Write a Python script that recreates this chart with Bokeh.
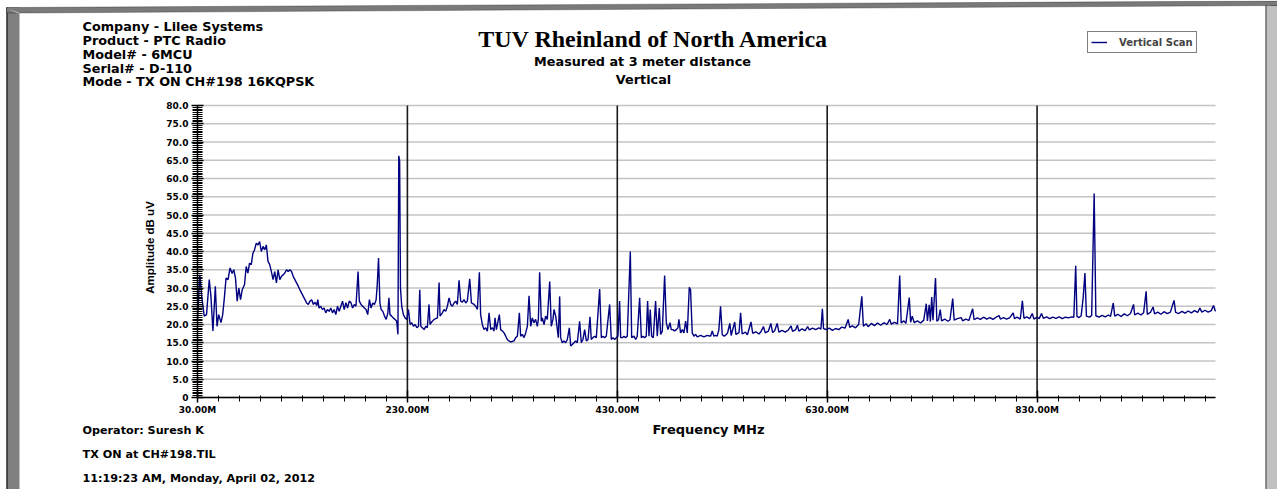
import numpy as np
from bokeh.plotting import figure
from bokeh.models import (FixedTicker, Label, Legend, LegendItem, BoxAnnotation, PolyAnnotation, Range1d)
from bokeh.embed import file_html
from bokeh.resources import INLINE

# ---------------- data ----------------
freq_mhz = [
    30.0, 32.2, 34.2, 36.4, 38.6, 41.2, 42.8, 44.7, 47.0, 48.6,
    50.2, 52.4, 54.0, 55.6, 57.2, 59.1, 61.0, 63.0, 64.6, 66.2,
    67.8, 69.4, 71.0, 72.6, 74.8, 76.4, 78.0, 79.6, 81.2, 82.8,
    84.4, 86.0, 87.6, 89.2, 90.8, 92.4, 94.0, 95.6, 97.2, 98.8,
    100.4, 102.0, 103.6, 105.2, 106.8, 108.4, 110.0, 111.6, 113.2, 114.8,
    116.4, 118.0, 119.6, 121.2, 122.8, 124.4, 126.0, 127.6, 129.2, 130.8,
    132.4, 134.0, 135.6, 137.2, 138.8, 140.4, 142.0, 143.6, 144.6, 145.8,
    147.4, 149.0, 150.6, 152.2, 153.8, 155.4, 157.0, 158.6, 160.2, 161.8,
    163.4, 165.0, 166.6, 168.2, 169.8, 171.4, 173.0, 174.6, 176.2, 177.8,
    179.4, 181.0, 183.0, 184.2, 185.8, 187.4, 189.0, 190.6, 192.2, 193.8,
    195.4, 197.0, 198.6, 200.2, 201.2, 202.5, 203.8, 205.0, 206.6, 208.2,
    209.8, 211.4, 212.4, 213.4, 215.0, 216.6, 218.2, 219.8, 221.0, 221.8,
    222.6, 223.4, 224.6, 226.2, 227.8, 229.4, 231.0, 232.6, 234.2, 235.8,
    237.4, 239.0, 240.6, 241.8, 242.8,
    244.3, 245.9, 247.5, 249.0, 250.6, 251.6, 252.9, 255.4, 258.6, 260.2,
    261.1, 263.3, 264.9, 266.5, 268.1, 269.7, 271.3, 272.9, 274.4, 276.0,
    277.6, 279.2, 280.8, 282.4, 284.0, 285.6, 287.1, 289.4, 291.0, 293.5,
    295.1, 296.7, 298.6, 299.8, 301.4, 303.0, 304.6, 306.2, 307.8, 309.4,
    311.0, 312.5, 313.5, 314.8, 316.7, 317.6, 318.9, 320.5, 322.1, 323.7,
    325.2, 326.8, 328.4, 331.6, 333.2, 334.8, 336.7, 337.9, 339.5, 341.1,
    342.7, 344.3, 345.9, 347.5, 349.0, 350.6, 352.2, 353.8, 354.8, 356.0,
    357.6, 358.6, 360.2, 361.7, 363.3, 365.6, 367.1, 368.7, 369.7, 371.3,
    372.9, 373.8, 375.1, 376.0, 377.6, 379.2, 380.8, 382.4, 384.3, 385.6,
    387.1, 388.7, 390.3, 391.9, 394.1, 395.7, 397.3, 398.9, 400.5, 402.1,
    404.0, 405.2, 406.8, 408.4, 410.0, 413.2, 414.8, 416.3, 417.9, 419.5,
    422.7, 424.3, 425.9, 427.5, 429.0, 430.6, 432.2, 433.2, 434.8, 436.3,
    437.9, 439.5, 442.4, 443.7, 445.9, 447.5, 449.0, 451.3, 452.9, 454.4,
    456.0, 457.6, 458.9, 460.2, 461.4, 462.7, 464.3, 466.5, 468.1, 470.0,
    471.3, 472.9, 475.1, 476.7, 478.3, 480.2, 481.4, 483.0, 484.6, 486.2,
    487.8, 488.7, 490.3, 491.9, 493.5, 495.1, 496.7, 498.6, 499.8, 501.4,
    503.0, 504.6, 506.2, 509.4, 512.5, 515.7, 518.9, 520.5, 522.1, 523.7,
    525.2, 526.8, 528.4,
    530.0, 532.0, 535.0, 537.2, 538.5, 541.9, 543.0, 546.0, 547.5, 549.0,
    552.0, 554.0, 557.4, 559.0, 562.0, 565.0, 567.0, 569.3, 571.0, 574.0,
    576.3, 578.0, 580.0, 582.3, 584.0, 587.0, 590.0, 593.0, 595.6, 597.0,
    600.0, 601.6, 603.0, 606.0, 609.0, 611.4, 613.0, 616.0, 619.0, 622.0,
    624.0, 625.4, 626.5, 629.0, 632.0, 635.0, 638.0, 641.0, 644.0, 647.0,
    650.0, 651.5, 654.0, 657.0, 660.0, 663.0, 664.5, 667.0, 669.0, 672.0,
    675.0, 678.0, 681.0, 684.0, 687.0, 689.6, 691.0, 694.0, 697.0, 699.1,
    700.5, 703.0, 705.0, 708.2, 709.5, 711.0, 713.0, 716.0, 719.0, 722.0,
    724.4, 725.5, 727.2, 728.3, 729.6, 730.8, 733.2, 734.5, 736.0, 737.7,
    739.0, 742.0, 745.0, 747.0, 749.6, 751.0, 754.0, 757.7, 759.0, 762.0,
    765.0, 768.6, 770.0, 773.0, 776.0, 779.0, 782.0, 785.0, 788.0, 791.0,
    793.9, 795.0, 798.0, 801.0, 804.0, 807.2, 808.5, 811.0, 814.0, 816.0,
    817.5, 820.0, 823.0, 825.4, 827.0, 830.0, 832.0, 834.2, 836.0, 839.0,
    842.0, 845.0, 848.0, 851.0, 854.0, 857.0, 860.0, 863.0, 865.0, 866.8,
    868.0, 870.0, 872.0, 873.9, 875.6, 877.0, 880.0, 882.0, 884.4, 886.0,
    889.0, 892.0, 895.0, 898.0, 900.0, 902.6, 904.0, 907.0, 910.0, 913.0,
    916.0, 919.0, 921.9, 923.0, 926.0, 929.0, 931.5, 933.9, 935.0, 938.0,
    940.5, 942.0, 945.0, 948.0, 951.0, 954.0, 957.0, 960.5, 962.0, 965.0,
    968.0, 971.0, 974.0, 977.0, 980.0, 983.0, 985.1, 987.0, 990.0, 993.0,
    996.0, 998.1, 1000.0,
]

amp_dbuv = [
    21.5, 33.6, 27.3, 22.3, 22.7, 32.3, 27.7, 18.2, 30.5, 19.5,
    22.7, 20.5, 22.7, 27.3, 32.7, 32.3, 35.5, 34.0, 35.0, 32.7,
    26.4, 30.0, 26.8, 29.5, 30.9, 35.9, 34.1, 36.8, 36.4, 39.5,
    40.5, 42.3, 41.8, 42.7, 40.0, 41.4, 40.5, 41.8, 37.3, 36.4,
    34.5, 32.3, 34.5, 31.4, 35.0, 32.3, 33.2, 33.6, 34.1, 35.0,
    34.5, 35.0, 34.5, 33.2, 32.3, 31.4, 30.5, 29.5, 28.6, 27.7,
    26.8, 25.9, 25.5, 26.4, 26.8, 25.5, 26.1, 25.2, 26.8, 24.5,
    25.0, 24.1, 24.5, 23.2, 24.1, 23.6, 24.5, 23.2, 24.1, 22.7,
    25.0, 23.6, 25.0, 26.4, 24.1, 26.0, 24.5, 26.4, 26.0, 24.5,
    25.5, 25.0, 34.5, 26.4, 25.5, 25.0, 24.5, 24.1, 22.7, 26.8,
    24.5, 25.9, 25.5, 26.8, 30.5, 38.2, 25.9, 24.1, 23.6, 22.3,
    21.4, 23.2, 27.3, 22.7, 22.3, 21.8, 21.4, 20.9, 17.3, 66.2,
    64.8, 30.0, 25.0, 22.7, 21.8, 21.4, 24.1, 20.0, 20.5, 19.5,
    20.0, 19.1, 19.5, 29.5, 19.5,
    19.1, 18.6, 19.5, 19.1, 25.5, 20.0, 20.6, 21.4, 21.8, 31.5,
    22.3, 23.2, 24.1, 23.6, 25.0, 27.3, 25.5, 25.0, 25.9, 26.4,
    25.5, 32.1, 26.4, 26.1, 26.8, 25.9, 26.4, 32.5, 25.9, 25.5,
    25.0, 24.1, 34.3, 22.7, 20.0, 18.6, 19.1, 18.2, 23.2, 18.6,
    19.1, 18.2, 21.8, 18.6, 21.4, 22.7, 18.6, 18.2, 17.7, 16.8,
    15.9, 15.5, 15.2, 15.5, 16.4, 16.8, 23.2, 16.8, 17.3, 16.4,
    17.7, 19.5, 27.9, 19.5, 21.8, 20.5, 21.4, 19.5, 21.4, 34.3,
    20.9, 21.8, 20.0, 22.3, 21.4, 31.8, 19.5, 21.4, 24.1, 22.3,
    18.6, 16.4, 27.7, 16.4, 15.0, 15.5, 15.0, 15.9, 19.1, 14.1,
    14.5, 15.0, 15.5, 15.0, 20.9, 15.0, 15.9, 18.6, 15.5, 15.9,
    22.1, 15.9, 16.4, 16.8, 16.4, 29.7, 16.4, 16.8, 16.4, 16.8,
    25.5, 15.9, 16.4, 15.9, 16.4, 16.8, 26.4, 16.4, 16.4, 16.8,
    16.4, 16.8, 40.0, 16.4, 16.8, 15.9, 16.8, 27.3, 16.4, 16.8,
    16.4, 16.8, 26.4, 16.8, 24.1, 16.8, 16.4, 26.4, 16.8, 24.5,
    17.3, 18.2, 33.4, 20.5, 18.6, 20.5, 18.6, 18.6, 18.2, 18.6,
    19.1, 21.4, 17.7, 18.6, 17.7, 20.9, 17.7, 30.2, 29.5, 17.7,
    16.8, 17.3, 16.6, 17.0, 16.6, 17.0, 16.8, 18.2, 16.8, 17.0,
    16.8, 18.6, 25.0,
    17.2, 16.8, 17.6, 20.3, 17.0, 20.7, 17.3, 17.8, 23.2, 17.4,
    17.9, 17.2, 20.7, 17.6, 18.0, 17.4, 18.1, 19.4, 17.7, 18.2,
    20.3, 17.8, 18.3, 20.3, 17.9, 18.4, 17.9, 18.5, 19.6, 18.1,
    18.6, 19.8, 18.2, 18.8, 18.3, 19.4, 18.5, 19.0, 18.6, 19.1,
    18.7, 24.3, 18.9, 18.6, 19.0, 18.4, 18.9, 18.6, 19.3, 19.0,
    21.4, 19.2, 19.6, 19.1, 20.0, 27.7, 19.5, 20.2, 19.4, 20.3,
    19.7, 20.4, 19.8, 20.5, 20.0, 21.4, 20.1, 20.6, 20.2, 33.4,
    20.4, 21.0, 20.3, 27.4, 20.6, 22.3, 20.5, 21.0, 20.4, 21.2,
    25.7, 21.0, 25.4, 20.8, 27.5, 21.2, 32.7, 20.9, 21.3, 24.1,
    21.0, 21.5, 20.9, 21.3, 27.1, 21.2, 21.6, 21.9, 21.0, 21.5,
    21.1, 24.3, 21.3, 21.8, 21.4, 22.0, 21.5, 21.9, 21.4, 22.0,
    22.4, 21.5, 21.9, 21.5, 21.9, 23.2, 21.6, 22.0, 21.5, 26.5,
    21.7, 22.1, 21.6, 23.0, 21.5, 22.0, 21.6, 23.0, 21.7, 22.1,
    21.6, 22.0, 21.7, 22.1, 21.6, 22.0, 21.8, 22.1, 22.0, 36.1,
    22.2, 21.9, 22.4, 27.3, 34.1, 22.3, 22.0, 22.5, 55.9, 22.4,
    22.0, 22.5, 22.1, 22.6, 22.2, 25.9, 22.3, 22.8, 22.2, 22.9,
    22.4, 23.0, 25.5, 22.6, 23.1, 22.6, 23.2, 29.1, 22.8, 23.3,
    24.8, 22.9, 23.4, 22.8, 23.5, 23.0, 23.4, 26.6, 23.3, 23.0,
    23.6, 23.1, 23.7, 23.2, 23.8, 23.3, 24.5, 23.4, 23.9, 23.4,
    23.8, 25.2, 23.6,
]

x_tick_values = [30, 230, 430, 630, 830]
x_tick_labels = ["30.00M", "230.00M", "430.00M", "630.00M", "830.00M"]
x_grid_values = [230, 430, 630, 830]
y_tick_values = [0, 5, 10, 15, 20, 25, 30, 35, 40, 45, 50, 55, 60, 65, 70, 75, 80]
y_tick_labels = ["0", "5.0", "10.0", "15.0", "20.0", "25.0", "30.0", "35.0", "40.0",
                 "45.0", "50.0", "55.0", "60.0", "65.0", "70.0", "75.0", "80.0"]
series_name = "Vertical Scan"

header_lines = [
    "Company -  Lilee Systems",
    "Product -  PTC Radio",
    "Model# - 6MCU",
    "Serial# - D-110",
    "Mode - TX ON  CH#198 16KQPSK",
]
title_text = "TUV Rheinland of North America"
subtitle_lines = ["Measured at 3 meter distance", "Vertical"]
footer_lines = ["Operator: Suresh K", "TX ON at CH#198.TIL", "11:19:23 AM, Monday, April 02, 2012"]
x_label = "Frequency MHz"
y_label = "Amplitude dB uV"

# ---------------- layout geometry (page pixels) ----------------
W, H = 1277, 489
FL, FR, FT, FB = 197, 1215, 105, 397      # data area in canvas pixels
X0, X1, Y0, Y1 = 30, 1000, 0, 80


def dx(px):
    return X0 + (px - FL) * (X1 - X0) / (FR - FL)


def dy(py):
    return Y0 + (FB - py) * (Y1 - Y0) / (FB - FT)


FONT = "DejaVu Sans"

# the frame covers the whole canvas; the data area is placed through the ranges
p = figure(width=W, height=H, x_range=Range1d(dx(0), dx(W)), y_range=Range1d(dy(H), dy(0)),
           output_backend="svg", toolbar_location=None,
           min_border=0, min_border_left=0, min_border_right=0,
           min_border_top=0, min_border_bottom=0,
           background_fill_color="white", border_fill_color="white")
p.outline_line_color = None
p.grid.visible = False

# grid lines confined to the data area
p.segment(x0=[X0] * len(y_tick_values), x1=[X1] * len(y_tick_values),
          y0=y_tick_values, y1=y_tick_values, line_color="#c4c4c4", line_width=1.6)
p.segment(x0=x_grid_values, x1=x_grid_values,
          y0=[Y0] * len(x_grid_values), y1=[Y1] * len(x_grid_values),
          line_color="#1a1a1a", line_width=1.6)

r = p.line(freq_mhz, amp_dbuv, line_color="#000080", line_width=1.4)

# axes pinned to the data area
xa = p.xaxis[0]
xa.fixed_location = Y0
xa.bounds = (X0, X1)
xa.ticker = FixedTicker(ticks=x_tick_values, minor_ticks=list(range(30, 1001, 20)))
xa.major_label_overrides = dict(zip(x_tick_values, x_tick_labels))
xa.major_tick_in = 7
xa.major_tick_out = 5
xa.minor_tick_in = 2
xa.minor_tick_out = 4
xa.major_label_standoff = 2

ya = p.yaxis[0]
ya.fixed_location = X0
ya.bounds = (Y0, Y1)
ya.ticker = FixedTicker(ticks=y_tick_values, minor_ticks=[i * 0.5 for i in range(161)])
ya.major_label_overrides = dict(zip(y_tick_values, y_tick_labels))
ya.major_tick_in = 6
ya.major_tick_out = 6
ya.minor_tick_in = 5
ya.minor_tick_out = 5
ya.major_label_standoff = 3

for ax in (xa, ya):
    ax.axis_line_color = "black"
    ax.axis_line_width = 1.5
    ax.major_tick_line_color = "black"
    ax.major_tick_line_width = 1.5
    ax.minor_tick_line_color = "black"
    ax.minor_tick_line_width = 1
    ax.major_label_text_font = FONT
    ax.major_label_text_font_style = "bold"
    ax.major_label_text_font_size = "9px"
    ax.major_label_text_color = "black"

# window-like frame bands
frame_boxes = [
    (6, 19, 7, 489, "#808080"),        # left band
    (6, 7, 7, 489, "#000000"),         # left dark edge
    (1265, 1277, 3, 489, "#c0c0c0"),   # right band
    (1265, 1266, 3, 489, "#404040"),   # right band edge
]
for l, rgt, t, b, c in frame_boxes:
    p.add_layout(BoxAnnotation(left=dx(l), right=dx(rgt), top=dy(t), bottom=dy(b),
                               fill_color=c, fill_alpha=1, line_color=None))
# top band (slightly slanted, as in the scan)
p.add_layout(PolyAnnotation(xs=[dx(6), dx(1277), dx(1277), dx(19), dx(6)],
                            ys=[dy(7), dy(0.5), dy(5), dy(12.5), dy(12.5)],
                            fill_color="#7a7a7a", fill_alpha=1,
                            line_color="black", line_width=1))
# light bevel at the top-left corner
p.add_layout(PolyAnnotation(xs=[dx(7), dx(19), dx(19)], ys=[dy(8), dy(12.5), dy(13.5)],
                            fill_color="#d8d8d8", fill_alpha=1, line_color=None))


def add_text(txt, px, py, size, align="left", font=FONT, angle=0.0):
    p.add_layout(Label(x=dx(px), y=dy(py), text=txt, text_font=font, text_font_style="bold",
                       text_font_size=size, text_align=align, text_baseline="middle",
                       text_color="black", angle=angle))


for i, line in enumerate(header_lines):
    add_text(line, 82, 25.8 + i * 13.9, "12.8px")

add_text(title_text, 653, 38.5, "24px", align="center", font="Liberation Serif")
add_text(subtitle_lines[0], 642, 60.5, "12.8px", align="center")
add_text(subtitle_lines[1], 643, 79, "12.8px", align="center")

footer_y = [430, 454, 478]
for line, yy in zip(footer_lines, footer_y):
    add_text(line, 82, yy, "11.2px")

add_text(x_label, 708, 429, "13px", align="center")
add_text(y_label, 149, 247, "11.5px", align="center", font="Liberation Sans", angle=np.pi / 2)

legend = Legend(items=[LegendItem(label=series_name, renderers=[r])],
                location=(1087, H - 53), margin=0, padding=3, spacing=0,
                glyph_width=16, glyph_height=14, label_height=14, label_standoff=12,
                label_text_font=FONT, label_text_font_style="bold", label_text_font_size="10px",
                border_line_color="black", border_line_width=1.5,
                background_fill_color="white", background_fill_alpha=1)
p.add_layout(legend)

open("out.html", "w").write(file_html(p, INLINE))
